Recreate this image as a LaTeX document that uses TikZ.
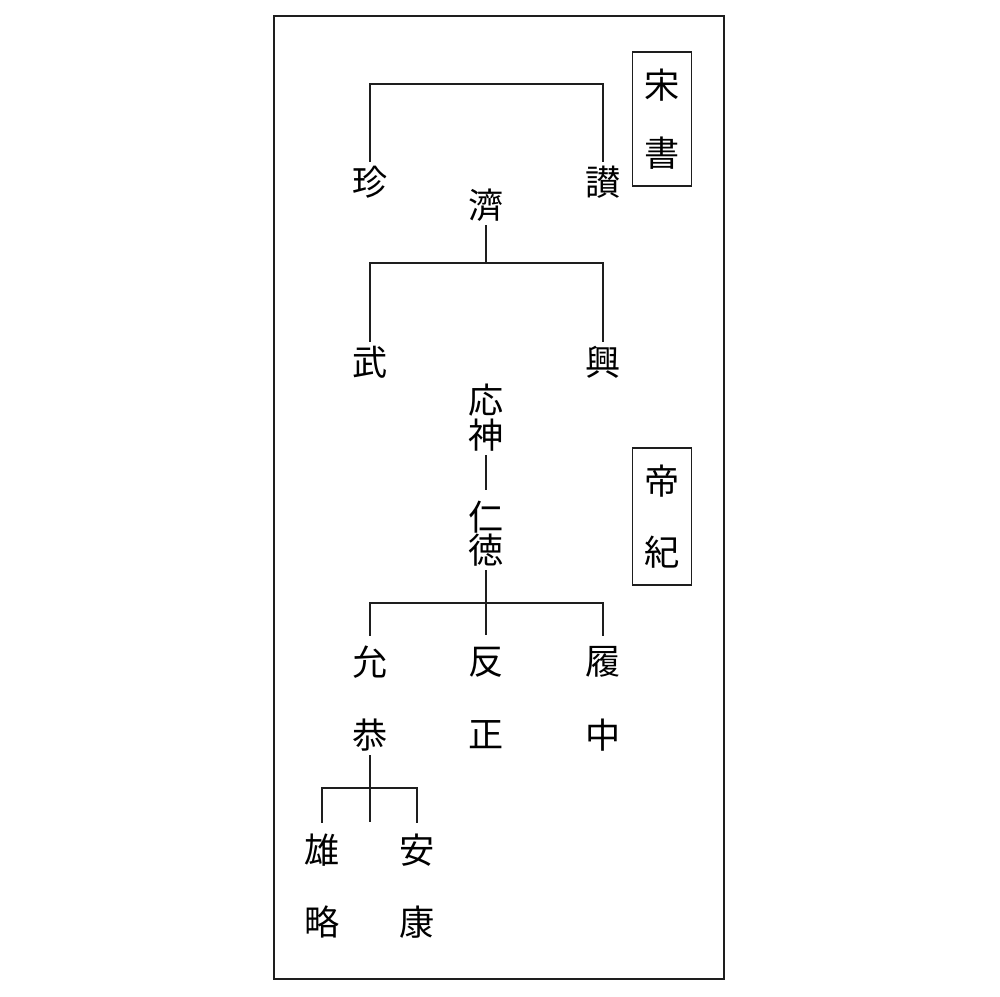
\documentclass[tikz,border=0pt]{standalone}
\usepackage{fontspec}
\usepackage{xcolor}
\usepackage{tikz}
\usetikzlibrary{fit}
\newfontfamily\jpfont{Noto Sans CJK JP}
\definecolor{treeblack}{RGB}{30,30,30}

\begin{document}
\begin{tikzpicture}[x=0.025cm, y=-0.025cm,
    kanji/.style={inner sep=0pt, minimum size=1cm, font=\jpfont\fontsize{25}{30}\selectfont},
    branch/.style={treeblack, line width=1.1pt},
    sourcebox/.style={draw=treeblack, line width=1.1pt, inner xsep=0.225cm, inner ysep=0.32cm}]
  \useasboundingbox (0,0) rectangle (1000,996);
  % Outer frame
  \draw[treeblack, line width=1.5pt] (274,16) rectangle (724,979);
  % Song shu source box
  \node[kanji] (song) at (662,85) {宋};
  \node[kanji] (shu) at (662,153) {書};
  \node[sourcebox, fit=(song)(shu)] (songshu) {};
  % Five kings of Wa
  \node[kanji] (zhen) at (370,182) {珍};
  \node[kanji] (zan) at (603,182) {讃};
  \node[kanji] (ji) at (486,205) {濟};
  \node[kanji] (wu) at (370,362) {武};
  \node[kanji] (xing) at (603,362) {興};
  \coordinate (bar1) at (486,84);
  \coordinate (bar2) at (486,263);
  \draw[branch] (zhen) |- (bar1) -| (zan);
  \draw[branch] (ji) -- (bar2);
  \draw[branch] (wu) |- (bar2) -| (xing);
  % Teiki source box
  \node[kanji] (di) at (662,481) {帝};
  \node[kanji] (ki) at (662,552) {紀};
  \node[sourcebox, fit=(di)(ki)] (teiki) {};
  % Emperors
  \node[kanji] (ou) at (486,400) {応};
  \node[kanji] (jin) at (486,435) {神};
  \node[kanji] (nin) at (486,517) {仁};
  \node[kanji] (toku) at (486,550) {徳};
  \draw[branch, shorten >=0.17cm] (jin) -- (nin);
  \node[kanji] (in) at (370,662) {允};
  \node[kanji] (kyo) at (370,735) {恭};
  \node[kanji] (han) at (486,662) {反};
  \node[kanji] (sho) at (486,735) {正};
  \node[kanji] (ri) at (603,662) {履};
  \node[kanji] (chu) at (603,735) {中};
  \coordinate (bar3) at (486,603);
  \draw[branch, shorten >=0.17cm] (toku) -- (han);
  \draw[branch, shorten <=0.15cm, shorten >=0.15cm] (in) |- (bar3) -| (ri);
  \node[kanji] (yu) at (322,850) {雄};
  \node[kanji] (ryaku) at (322,922) {略};
  \node[kanji] (an) at (417,850) {安};
  \node[kanji] (ko) at (417,922) {康};
  \coordinate (bar4) at (370,788);
  \coordinate (stem) at (370,822);
  \draw[branch] (kyo) -- (stem);
  \draw[branch, shorten <=0.17cm, shorten >=0.17cm] (yu) |- (bar4) -| (an);
\end{tikzpicture}
\end{document}
